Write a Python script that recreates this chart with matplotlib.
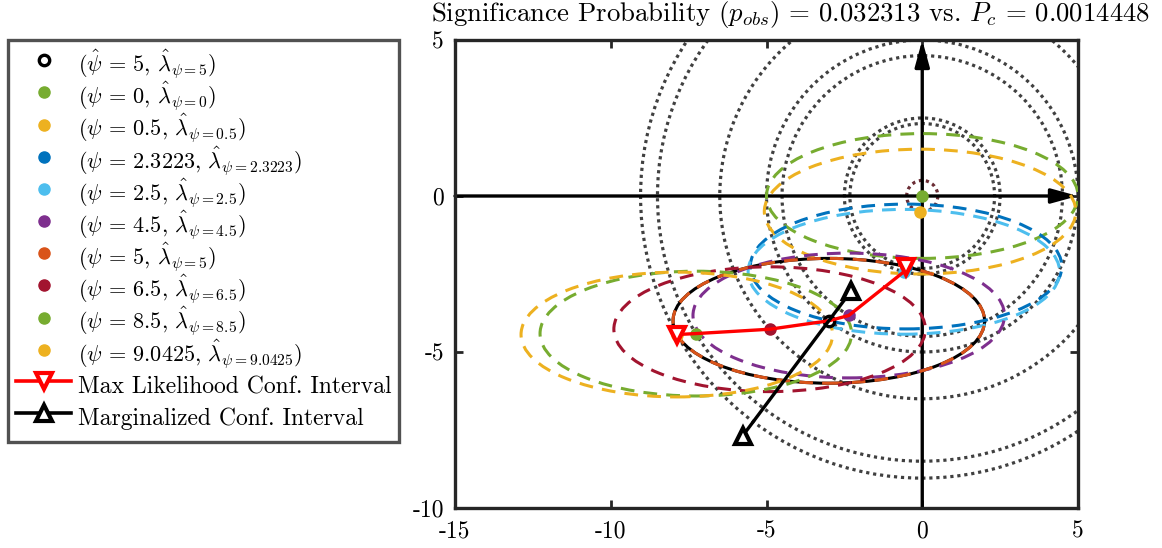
import numpy as np
import matplotlib
matplotlib.use("Agg")
import matplotlib.pyplot as plt
from matplotlib.patches import Ellipse, Circle
from matplotlib.lines import Line2D

plt.rcParams['font.family'] = 'cmr10'
plt.rcParams['mathtext.fontset'] = 'cm'
plt.rcParams['axes.unicode_minus'] = False

# constrained estimates for each psi
psi = [0, 0.5, 2.3223, 2.5, 4.5, 5, 6.5, 8.5, 9.0425]
psi_lbl = ['0', '0.5', '2.3223', '2.5', '4.5', '5', '6.5', '8.5', '9.0425']
lam_x = [0.0, -0.07, -0.52, -0.59, -2.36, -3.00, -4.90, -7.27, -7.88]
lam_y = [0.0, -0.50, -2.26, -2.43, -3.83, -4.00, -4.27, -4.41, -4.44]
colors = ['#77AC30', '#EDB120', '#0072BD', '#4DBEEE', '#7E2F8E',
          '#D95319', '#A2142F', '#77AC30', '#EDB120']

# unconstrained estimate and error ellipse half-axes
psi_hat = 5
hat_x, hat_y = -3.0, -4.0
ell_a, ell_b = 5.0, 2.0

# interval end points
ml_idx = [2, 3, 4, 5, 6, 7, 8]
marg_x = [-2.28, -5.76]
marg_y = [-3.04, -7.68]

xticks = [-15, -10, -5, 0, 5]
yticks = [-10, -5, 0, 5]

fig = plt.figure(figsize=(11.62, 5.48), dpi=100)
ax = fig.add_axes([455/1162, 40/548, 623/1162, 468/548])
ax.set_xlim(-15, 5)
ax.set_ylim(-10, 5)

# circles of constant psi
for r in psi[1:]:
    c = '#6a2c34' if r < 1 else '#404040'
    ax.add_patch(Circle((0, 0), r, fill=False, ec=c, lw=2.3,
                        ls=(0, (1, 1.2)), zorder=1))

# coordinate axes
arrow = dict(arrowstyle='-|>,head_length=0.8,head_width=0.22', color='k',
             lw=2.4, mutation_scale=20, shrinkA=0, shrinkB=0)
ax.annotate('', xy=(5, 0), xytext=(-15, 0), arrowprops=arrow, zorder=2)
ax.annotate('', xy=(0, 5), xytext=(0, -10), arrowprops=arrow, zorder=2)

# ellipse around the unconstrained estimate
ax.add_patch(Ellipse((hat_x, hat_y), 2*ell_a, 2*ell_b, fill=False,
                     ec='k', lw=2.2, zorder=3))

handles = []
h = ax.plot(hat_x, hat_y, 'o', mfc='white', mec='k', mew=2.4, ms=7.5, zorder=6,
            label=r'$(\hat{\psi}\,=\,%d,\, \hat{\lambda}_{\psi=%d})$' % (psi_hat, psi_hat))[0]
handles.append(h)

for i in range(len(psi)):
    ax.add_patch(Ellipse((lam_x[i], lam_y[i]), 2*ell_a, 2*ell_b, fill=False,
                         ec=colors[i], lw=2.2, ls=(0, (4.5, 3)), zorder=4))
    h = ax.plot(lam_x[i], lam_y[i], 'o', color=colors[i], ms=8, zorder=5,
                label=r'$(\psi\,=\,%s,\, \hat{\lambda}_{\psi=%s})$' % (psi_lbl[i], psi_lbl[i]))[0]
    handles.append(h)

# likelihood interval path
ml_x = [lam_x[i] for i in ml_idx]
ml_y = [lam_y[i] for i in ml_idx]
ax.plot(ml_x, ml_y, '-', color='red', lw=2.4, zorder=7)
ax.plot([ml_x[0], ml_x[-1]], [ml_y[0], ml_y[-1]], 'v', mfc='white', mec='red',
        mew=3, ms=11, ls='none', zorder=8)
handles.append(Line2D([], [], color='red', lw=2.6, marker='v', mfc='white',
                      mec='red', mew=3, ms=11, label='Max Likelihood Conf. Interval'))

ax.plot(marg_x, marg_y, '-', color='k', lw=2.4, zorder=7)
ax.plot(marg_x, marg_y, '^', mfc='white', mec='k', mew=3, ms=11, ls='none', zorder=8)
handles.append(Line2D([], [], color='k', lw=2.6, marker='^', mfc='white',
                      mec='k', mew=3, ms=11, label='Marginalized Conf. Interval'))

ax.set_xticks(xticks)
ax.set_xticklabels([str(t) for t in xticks])
ax.set_yticks(yticks)
ax.set_yticklabels([str(t) for t in yticks])
ax.tick_params(direction='in', length=6, width=2, top=True, right=True,
               labelsize=17, color='#262626')
ax.tick_params(axis='x', pad=9)
ax.tick_params(axis='y', pad=8)
for s in ax.spines.values():
    s.set_linewidth(2.4)
    s.set_color('#262626')

ax.text(1.1156, 1.04,
        r'Significance Probability $(p_{obs})\,=\,0.032313$ vs. $P_c\,=\,0.0014448$',
        transform=ax.transAxes, ha='right', va='baseline', fontsize=19.3)

leg = fig.legend(handles=handles, loc='upper left', bbox_to_anchor=(8/1162, 1 - 40/548),
                 fontsize=16, frameon=True, fancybox=False, numpoints=1,
                 handlelength=2.5, handleheight=1.95, handletextpad=0.3,
                 labelspacing=-0.09, borderpad=0.35, borderaxespad=0)
for t in leg.get_texts()[-2:]:
    t.set_fontsize(17)
leg.get_frame().set_edgecolor('#262626')
leg.get_frame().set_linewidth(2.4)

fig.savefig('out.png', dpi=100)
